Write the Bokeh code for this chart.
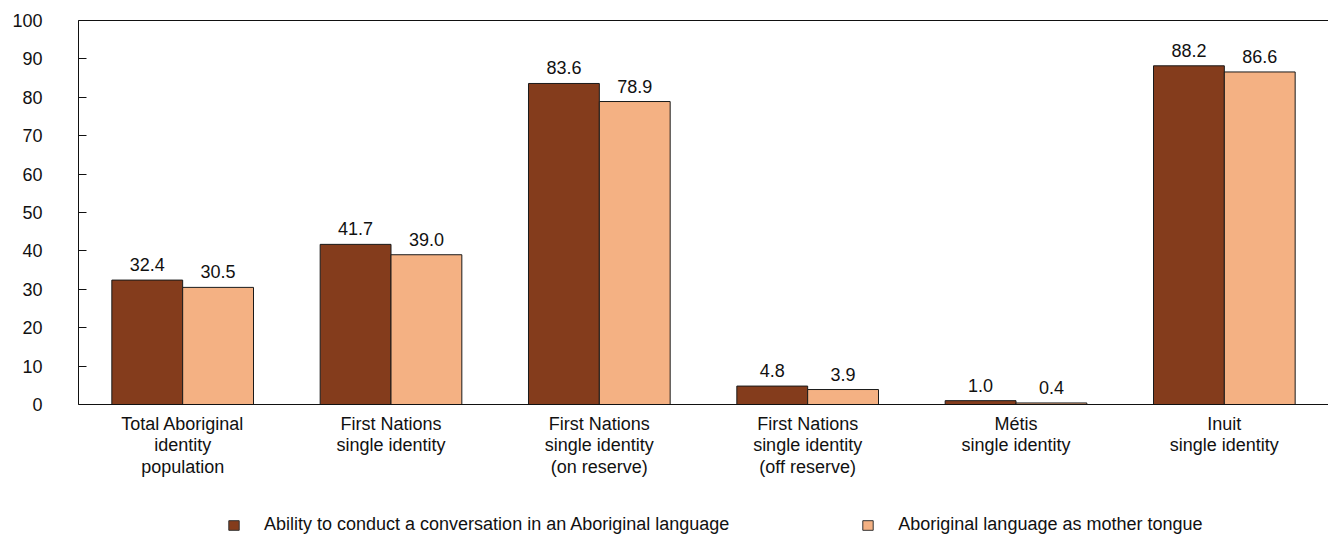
from bokeh.plotting import figure
from bokeh.layouts import column
from bokeh.core.properties import value
from bokeh.models import (ColumnDataSource, FactorRange, Range1d, CategoricalAxis,
                          Legend, LegendItem, FixedTicker, LabelSet)
from bokeh.transform import dodge
from bokeh.embed import file_html
from bokeh.resources import INLINE

FONT = "Liberation Sans"

categories = [
    "Total Aboriginal\nidentity\npopulation",
    "First Nations\nsingle identity",
    "First Nations\nsingle identity\n(on reserve)",
    "First Nations\nsingle identity\n(off reserve)",
    "Métis\nsingle identity",
    "Inuit\nsingle identity",
]
conversation = [32.4, 41.7, 83.6, 4.8, 1.0, 88.2]
mother_tongue = [30.5, 39.0, 78.9, 3.9, 0.4, 86.6]
series_names = [
    "Ability to conduct a conversation in an Aboriginal language",
    "Aboriginal language as mother tongue",
]
y_ticks = list(range(0, 101, 10))

DARK = "#843C1C"
LIGHT = "#F4B183"
EDGE = "#1a1a1a"
INK = "#111111"

src = ColumnDataSource(dict(
    cat=categories,
    conv=conversation,
    mt=mother_tongue,
    conv_lbl=[f"{v:.1f}" for v in conversation],
    mt_lbl=[f"{v:.1f}" for v in mother_tongue],
))

p = figure(
    x_range=FactorRange(*categories, range_padding=0),
    y_range=Range1d(0, 100),
    width=1328, height=490,
    output_backend="svg", toolbar_location=None,
    min_border_left=78, min_border_right=0, min_border_top=20, min_border_bottom=86,
)
p.outline_line_color = None
p.xgrid.visible = False
p.ygrid.visible = False

bw = 0.34
p.vbar(x=dodge("cat", -bw / 2, range=p.x_range), top="conv", width=bw, source=src,
       fill_color=DARK, line_color=EDGE, line_width=1)
p.vbar(x=dodge("cat", bw / 2, range=p.x_range), top="mt", width=bw, source=src,
       fill_color=LIGHT, line_color=EDGE, line_width=1)

for col, lbl, off in (("conv", "conv_lbl", -bw / 2), ("mt", "mt_lbl", bw / 2)):
    p.add_layout(LabelSet(
        x=dodge("cat", off, range=p.x_range), y=col, text=lbl, source=src,
        text_align="center", text_baseline="alphabetic", y_offset=9,
        text_font=value(FONT), text_font_size=value("18px"), text_color=INK,
    ))

# y axis: inward ticks every 10
ya = p.yaxis[0]
ya.ticker = FixedTicker(ticks=y_ticks)
ya.major_tick_in = 8
ya.major_tick_out = 0
ya.minor_tick_line_color = None
ya.major_label_standoff = 36
ya.major_label_text_font = FONT
ya.major_label_text_font_size = "18px"
ya.major_label_text_color = INK
ya.axis_line_color = INK
ya.major_tick_line_color = INK

# x axis
xa = p.xaxis[0]
xa.major_tick_line_color = None
xa.minor_tick_line_color = None
xa.major_label_standoff = 3
xa.major_label_text_font = FONT
xa.major_label_text_font_size = "18px"
xa.major_label_text_line_height = 1.08
xa.major_label_text_color = INK
xa.axis_line_color = INK

# top border line
top = CategoricalAxis(major_tick_line_color=None, minor_tick_line_color=None,
                      major_label_text_alpha=0, major_label_text_font_size="1px",
                      axis_line_color=INK, major_label_standoff=0)
p.add_layout(top, "above")

# legend strip underneath the chart
lg = figure(width=1328, height=45, output_backend="svg", toolbar_location=None,
            x_range=Range1d(0, 1), y_range=Range1d(0, 1),
            min_border=0, outline_line_color=None)
lg.axis.visible = False
lg.grid.visible = False
k1 = lg.rect(x=[5], y=[5], width=1, height=1, fill_color=DARK, line_color="#333333")
k2 = lg.rect(x=[5], y=[5], width=1, height=1, fill_color=LIGHT, line_color="#333333")

legend = Legend(
    items=[LegendItem(label=series_names[0], renderers=[k1]),
           LegendItem(label=series_names[1], renderers=[k2])],
    orientation="horizontal", location=(149, 0),
    label_text_font=FONT, label_text_font_size="18px", label_text_color=INK,
    glyph_width=13, glyph_height=12, spacing=132, label_standoff=24,
    border_line_color=None, background_fill_alpha=0, padding=0, margin=0,
)
lg.add_layout(legend, "center")

layout = column(p, lg, spacing=0)
open("out.html", "w").write(file_html(layout, INLINE))
